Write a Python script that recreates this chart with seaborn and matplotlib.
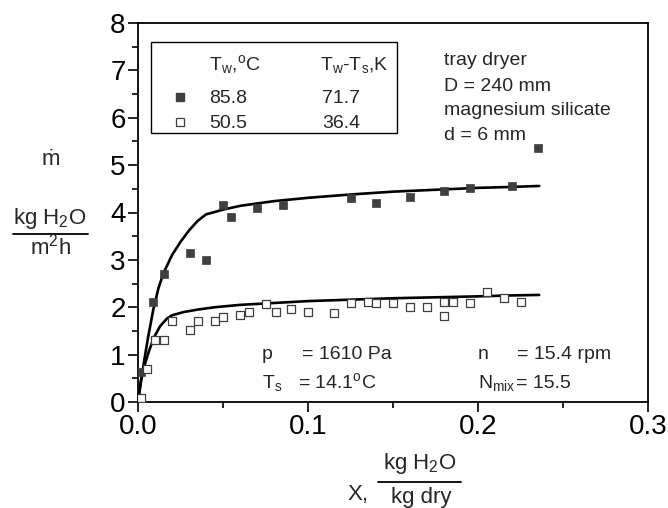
import matplotlib
matplotlib.use("Agg")
import matplotlib.pyplot as plt
import seaborn as sns
from matplotlib.lines import Line2D
from matplotlib.patches import Rectangle
from matplotlib.ticker import MultipleLocator

# ---------------- data ----------------
hot_x = [0.002, 0.0091, 0.0151, 0.0303, 0.0401, 0.0498, 0.0549, 0.070, 0.0851,
         0.125, 0.140, 0.160, 0.180, 0.195, 0.220, 0.2352]
hot_y = [0.64, 2.11, 2.70, 3.15, 3.00, 4.16, 3.91, 4.10, 4.16,
         4.31, 4.21, 4.33, 4.45, 4.51, 4.56, 5.36]

cold_x = [0.0016, 0.005, 0.0101, 0.0151, 0.0202, 0.0303, 0.0353, 0.045, 0.050,
          0.060, 0.0652, 0.0752, 0.0813, 0.0902, 0.100, 0.1152, 0.125, 0.135,
          0.140, 0.150, 0.160, 0.170, 0.180, 0.180, 0.185, 0.195, 0.2054,
          0.2153, 0.2251]
cold_y = [0.09, 0.70, 1.30, 1.30, 1.70, 1.51, 1.70, 1.70, 1.80,
          1.84, 1.91, 2.06, 1.90, 1.96, 1.90, 1.87, 2.09, 2.11,
          2.09, 2.09, 2.00, 2.00, 2.11, 1.81, 2.11, 2.09, 2.32,
          2.19, 2.11]

fit_hot_x = [0, 0.002, 0.004, 0.006, 0.009, 0.012, 0.015, 0.020, 0.025, 0.030,
             0.035, 0.040, 0.050, 0.060, 0.080, 0.100, 0.125, 0.150, 0.175,
             0.200, 0.220, 0.236]
fit_hot_y = [0, 0.50, 0.95, 1.38, 1.95, 2.40, 2.72, 3.10, 3.38, 3.62,
             3.82, 3.96, 4.06, 4.14, 4.24, 4.31, 4.38, 4.44, 4.48,
             4.52, 4.54, 4.56]

fit_cold_x = [0, 0.0015, 0.0035, 0.0065, 0.0095, 0.013, 0.017, 0.020, 0.027,
              0.035, 0.045, 0.060, 0.075, 0.100, 0.125, 0.150, 0.175, 0.200,
              0.220, 0.236]
fit_cold_y = [0, 0.40, 0.73, 1.08, 1.37, 1.60, 1.76, 1.83, 1.90,
              1.95, 2.00, 2.05, 2.08, 2.13, 2.16, 2.19, 2.21, 2.23,
              2.25, 2.26]

x_ticks = [0.0, 0.1, 0.2, 0.3]
x_ticklabels = ["0.0", "0.1", "0.2", "0.3"]
y_ticks = [0, 1, 2, 3, 4, 5, 6, 7, 8]
y_ticklabels = ["0", "1", "2", "3", "4", "5", "6", "7", "8"]

# ---------------- style ----------------
sns.set_style("ticks")
plt.rcParams["font.family"] = ["Liberation Sans", "DejaVu Sans"]
plt.rcParams["mathtext.fontset"] = "custom"
plt.rcParams["mathtext.rm"] = "Liberation Sans"
plt.rcParams["mathtext.it"] = "Liberation Sans:italic"
plt.rcParams["mathtext.bf"] = "Liberation Sans:bold"

W, H = 668, 508
fig = plt.figure(figsize=(W / 100, H / 100), dpi=100)
L, R, T, B = 138, 648, 23, 402
ax = fig.add_axes([L / W, 1 - B / H, (R - L) / W, (B - T) / H])

mark_col = "#3f3f3f"

sns.lineplot(x=fit_hot_x, y=fit_hot_y, sort=False, estimator=None,
             color="black", linewidth=1.9, ax=ax, zorder=2)
sns.lineplot(x=fit_cold_x, y=fit_cold_y, sort=False, estimator=None,
             color="black", linewidth=1.9, ax=ax, zorder=2)
sns.scatterplot(x=hot_x, y=hot_y, marker="s", s=34, color=mark_col,
                edgecolor=mark_col, linewidth=0.5, ax=ax, zorder=3)
sns.scatterplot(x=cold_x, y=cold_y, marker="s", s=30, color="white",
                edgecolor=mark_col, linewidth=0.9, ax=ax, zorder=3)

ax.set_xlim(0, 0.3)
ax.set_ylim(0, 8)
ax.set_xticks(x_ticks)
ax.set_xticklabels(x_ticklabels)
ax.set_yticks(y_ticks)
ax.set_yticklabels(y_ticklabels)
ax.xaxis.set_minor_locator(MultipleLocator(0.05))
ax.yaxis.set_minor_locator(MultipleLocator(0.5))
ax.tick_params(which="major", direction="out", length=7, width=1.2,
               labelsize=20, pad=2, color="black", labelcolor="black")
ax.tick_params(which="minor", direction="out", length=4, width=1.2,
               color="black")
ax.tick_params(top=False, right=False, which="both")
for s in ax.spines.values():
    s.set_visible(True)
    s.set_linewidth(1.3)
    s.set_color("black")
ax.set_xlabel("")
ax.set_ylabel("")

fs = 14
# legend box
ax.add_patch(Rectangle((0.0247, 0.710), 0.508 - 0.0247, 0.950 - 0.710,
                       transform=ax.transAxes, fill=False, lw=1.0,
                       ec="black", zorder=4))
ax.text(0.139, 0.875, r"T$_\mathrm{w}$,$^\mathrm{o}$C", transform=ax.transAxes,
        fontsize=fs, va="baseline")
ax.text(0.357, 0.875, r"T$_\mathrm{w}$-T$_\mathrm{s}$,K", transform=ax.transAxes,
        fontsize=fs, va="baseline")
ax.plot([0.083], [0.805], marker="s", ms=5.5, color=mark_col,
        transform=ax.transAxes, clip_on=False, ls="none")
ax.plot([0.083], [0.740], marker="s", ms=5.2, mfc="white", mec=mark_col,
        mew=0.9, transform=ax.transAxes, clip_on=False, ls="none")
ax.text(0.139, 0.789, "85.8", transform=ax.transAxes, fontsize=fs, va="baseline")
ax.text(0.361, 0.789, "71.7", transform=ax.transAxes, fontsize=fs, va="baseline")
ax.text(0.139, 0.724, "50.5", transform=ax.transAxes, fontsize=fs, va="baseline")
ax.text(0.361, 0.724, "36.4", transform=ax.transAxes, fontsize=fs, va="baseline")

# right annotation
for yy, s in zip([0.889, 0.821, 0.756, 0.690],
                 ["tray dryer", "D = 240 mm", "magnesium silicate", "d = 6 mm"]):
    ax.text(0.60, yy, s, transform=ax.transAxes, fontsize=fs, va="baseline")

# bottom annotation
ax.text(0.243, 0.113, "p", transform=ax.transAxes, fontsize=fs, va="baseline")
ax.text(0.321, 0.113, "= 1610 Pa", transform=ax.transAxes, fontsize=fs, va="baseline")
ax.text(0.243, 0.036, r"T$_\mathrm{s}$", transform=ax.transAxes, fontsize=fs, va="baseline")
ax.text(0.314, 0.036, r"= 14.1$^\mathrm{o}$C", transform=ax.transAxes, fontsize=fs, va="baseline")
ax.text(0.667, 0.113, "n", transform=ax.transAxes, fontsize=fs, va="baseline")
ax.text(0.744, 0.113, "= 15.4 rpm", transform=ax.transAxes, fontsize=fs, va="baseline")
ax.text(0.667, 0.036, r"N$_\mathrm{mix}$", transform=ax.transAxes, fontsize=fs, va="baseline")
ax.text(0.741, 0.036, "= 15.5", transform=ax.transAxes, fontsize=fs, va="baseline")

# y-axis label (fraction)
lfs = 16
fig.text(51 / W, 1 - 165 / H, "ṁ", fontsize=lfs, ha="center", va="baseline")
fig.text(50 / W, 1 - 224 / H, r"kg H$_\mathrm{2}$O", fontsize=lfs, ha="center", va="baseline")
fig.add_artist(Line2D([13 / W, 88 / W], [1 - 234 / H, 1 - 234 / H],
                      transform=fig.transFigure, color="black", lw=1.3))
fig.text(50 / W, 1 - 254 / H, r"m$^\mathrm{2}$h", fontsize=lfs, ha="center", va="baseline")

# x-axis label (fraction)
fig.text(348 / W, 1 - 500 / H, "X,", fontsize=lfs, ha="left", va="baseline")
fig.text(420 / W, 1 - 469 / H, r"kg H$_\mathrm{2}$O", fontsize=lfs, ha="center", va="baseline")
fig.add_artist(Line2D([378 / W, 461 / W], [1 - 482 / H, 1 - 482 / H],
                      transform=fig.transFigure, color="black", lw=1.3))
fig.text(421 / W, 1 - 503 / H, "kg dry", fontsize=lfs, ha="center", va="baseline")

fig.savefig("out.png", dpi=100)
